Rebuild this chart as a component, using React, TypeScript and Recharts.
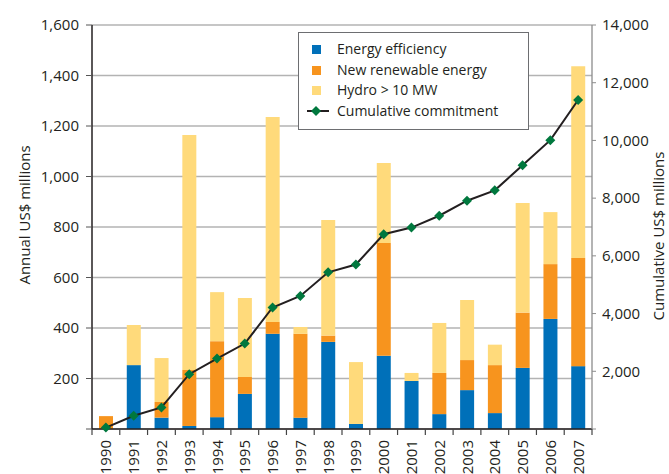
import React from 'react';
import {
  ComposedChart,
  Bar,
  Line,
  XAxis,
  YAxis,
  CartesianGrid,
  Label,
} from 'recharts';

const years = [
  '1990', '1991', '1992', '1993', '1994', '1995', '1996', '1997', '1998',
  '1999', '2000', '2001', '2002', '2003', '2004', '2005', '2006', '2007',
];
const energyEfficiency = [0, 253, 45, 12, 47, 139, 377, 45, 345, 20, 290, 190, 59, 154, 63, 242, 436, 249];
const newRenewable = [51, 0, 62, 222, 301, 67, 47, 332, 25, 0, 447, 0, 163, 119, 190, 219, 217, 428];
const hydro = [0, 159, 174, 930, 194, 313, 812, 27, 458, 245, 316, 32, 198, 238, 81, 434, 206, 760];
const cumulative = [50, 460, 745, 1900, 2440, 2960, 4210, 4610, 5430, 5700, 6750, 6980, 7390, 7910, 8270, 9140, 10010, 11400];

const leftTicks = [0, 200, 400, 600, 800, 1000, 1200, 1400, 1600];
const rightTicks = [0, 2000, 4000, 6000, 8000, 10000, 12000, 14000];

const seriesNames = ['Energy efficiency', 'New renewable energy', 'Hydro > 10 MW', 'Cumulative commitment'];

const COLORS = {
  blue: '#0070b9',
  orange: '#f7941e',
  yellow: '#ffda7b',
  green: '#00783e',
  line: '#231f20',
  text: '#231f20',
};

const data = years.map((y, i) => ({
  year: y,
  ee: energyEfficiency[i],
  nre: newRenewable[i],
  hydro: hydro[i],
  cum: cumulative[i],
}));

const FONT = '"Open Sans", "Noto Sans", sans-serif';

const fmt = (v: number) => (v === 0 ? '' : v.toLocaleString('en-US'));

const XTick = (props: any) => {
  const { x, y, payload, index, width } = props;
  const band = typeof width === 'number' && width > 100 ? width / years.length : 27.76;
  return (
    <g>
      <line x1={x - band / 2} x2={x - band / 2} y1={y} y2={y + 6} stroke="#444" strokeWidth={1.2} />
      {index === years.length - 1 && (
        <line x1={x + band / 2} x2={x + band / 2} y1={y} y2={y + 6} stroke="#444" strokeWidth={1.2} />
      )}
      <text
        transform={`translate(${x + 5.5},${y + 11}) rotate(-90)`}
        textAnchor="end"
        fontSize={15}
        fontFamily={FONT}
        fill={COLORS.text}
      >
        {payload.value}
      </text>
    </g>
  );
};

const Diamond = (props: any) => {
  const { cx, cy, index } = props;
  if (cx == null || cy == null) return <g key={`d-${index}`} />;
  const r = 5;
  return (
    <polygon
      key={`d-${index}`}
      points={`${cx},${cy - r} ${cx + r},${cy} ${cx},${cy + r} ${cx - r},${cy}`}
      fill={COLORS.green}
    />
  );
};

const LegendBox = () => {
  const swatches = [COLORS.blue, COLORS.orange, COLORS.yellow];
  return (
    <div
      style={{
        position: 'absolute',
        left: 298,
        top: 32,
        width: 231,
        height: 98,
        boxSizing: 'border-box',
        border: '1px solid #6d6e71',
        background: '#fff',
        paddingTop: 6,
        fontFamily: FONT,
        fontSize: 14,
        color: COLORS.text,
      }}
    >
      {seriesNames.map((name, i) => (
        <div key={name} style={{ height: 20.7, display: 'flex', alignItems: 'center', position: 'relative' }}>
          {i < 3 ? (
            <div
              style={{
                position: 'absolute',
                left: 13,
                top: 6,
                width: 9,
                height: 9,
                background: swatches[i],
              }}
            />
          ) : (
            <svg style={{ position: 'absolute', left: 8, top: 3 }} width={22} height={14}>
              <line x1={0} x2={22} y1={7} y2={7} stroke={COLORS.line} strokeWidth={2} />
              <polygon points="9,2 14,7 9,12 4,7" fill={COLORS.green} />
            </svg>
          )}
          <span style={{ position: 'absolute', left: 38, lineHeight: '20.7px', whiteSpace: 'nowrap' }}>{name}</span>
        </div>
      ))}
    </div>
  );
};

export default function App() {
  return (
    <div style={{ position: 'absolute', left: 0, top: 0, width: 669, height: 474, background: '#fff' }}>
      <ComposedChart
        width={669}
        height={474}
        data={data}
        margin={{ top: 25, right: 0, left: 0, bottom: 0 }}
        style={{ fontFamily: FONT }}
      >
        <CartesianGrid yAxisId="left" vertical={false} stroke="#b3b3b3" strokeWidth={1.3} />
        <XAxis
          dataKey="year"
          interval={0}
          height={45}
          tickLine={false}
          tickSize={0}
          tickMargin={0}
          axisLine={{ stroke: COLORS.line, strokeWidth: 1.5 }}
          tick={<XTick />}
        />
        <YAxis
          yAxisId="left"
          width={92}
          domain={[0, 1600]}
          ticks={leftTicks}
          tickFormatter={fmt}
          tickSize={6}
          tickMargin={7}
          tick={{ fontSize: 15, fill: COLORS.text, fontFamily: FONT }}
          axisLine={{ stroke: COLORS.line, strokeWidth: 1.5 }}
          tickLine={{ stroke: '#555' }}
        >
          <Label
            content={(p: any) => {
              const vb = p.viewBox || { x: 0, y: 25, width: 92, height: 404 };
              const cx = vb.x + 30;
              const cy = vb.y + vb.height / 2 - 12;
              return (
                <text
                  transform={`translate(${cx},${cy}) rotate(-90)`}
                  textAnchor="middle"
                  fontSize={15}
                  fontFamily={FONT}
                  fill={COLORS.text}
                >
                  Annual US$ millions
                </text>
              );
            }}
          />
        </YAxis>
        <YAxis
          yAxisId="right"
          orientation="right"
          width={77}
          domain={[0, 14000]}
          ticks={rightTicks}
          tickFormatter={fmt}
          tickSize={4}
          tickMargin={6}
          tick={{ fontSize: 15, fill: COLORS.text, fontFamily: FONT }}
          axisLine={{ stroke: '#8c8c8c', strokeWidth: 1.3 }}
          tickLine={{ stroke: '#8c8c8c' }}
        >
          <Label
            content={(p: any) => {
              const vb = p.viewBox || { x: 592, y: 25, width: 77, height: 404 };
              const cx = vb.x + 72;
              const cy = vb.y + vb.height / 2 + 9;
              return (
                <text
                  transform={`translate(${cx},${cy}) rotate(-90)`}
                  textAnchor="middle"
                  fontSize={15}
                  fontFamily={FONT}
                  fill={COLORS.text}
                >
                  Cumulative US$ millions
                </text>
              );
            }}
          />
        </YAxis>
        <Bar yAxisId="left" dataKey="ee" name={seriesNames[0]} stackId="a" fill={COLORS.blue} barSize={14} isAnimationActive={false} />
        <Bar yAxisId="left" dataKey="nre" name={seriesNames[1]} stackId="a" fill={COLORS.orange} barSize={14} isAnimationActive={false} />
        <Bar yAxisId="left" dataKey="hydro" name={seriesNames[2]} stackId="a" fill={COLORS.yellow} barSize={14} isAnimationActive={false} />
        <Line
          yAxisId="right"
          dataKey="cum"
          name={seriesNames[3]}
          type="linear"
          stroke={COLORS.line}
          strokeWidth={2}
          dot={Diamond}
          activeDot={false}
          isAnimationActive={false}
        />
      </ComposedChart>
      <LegendBox />
    </div>
  );
}
